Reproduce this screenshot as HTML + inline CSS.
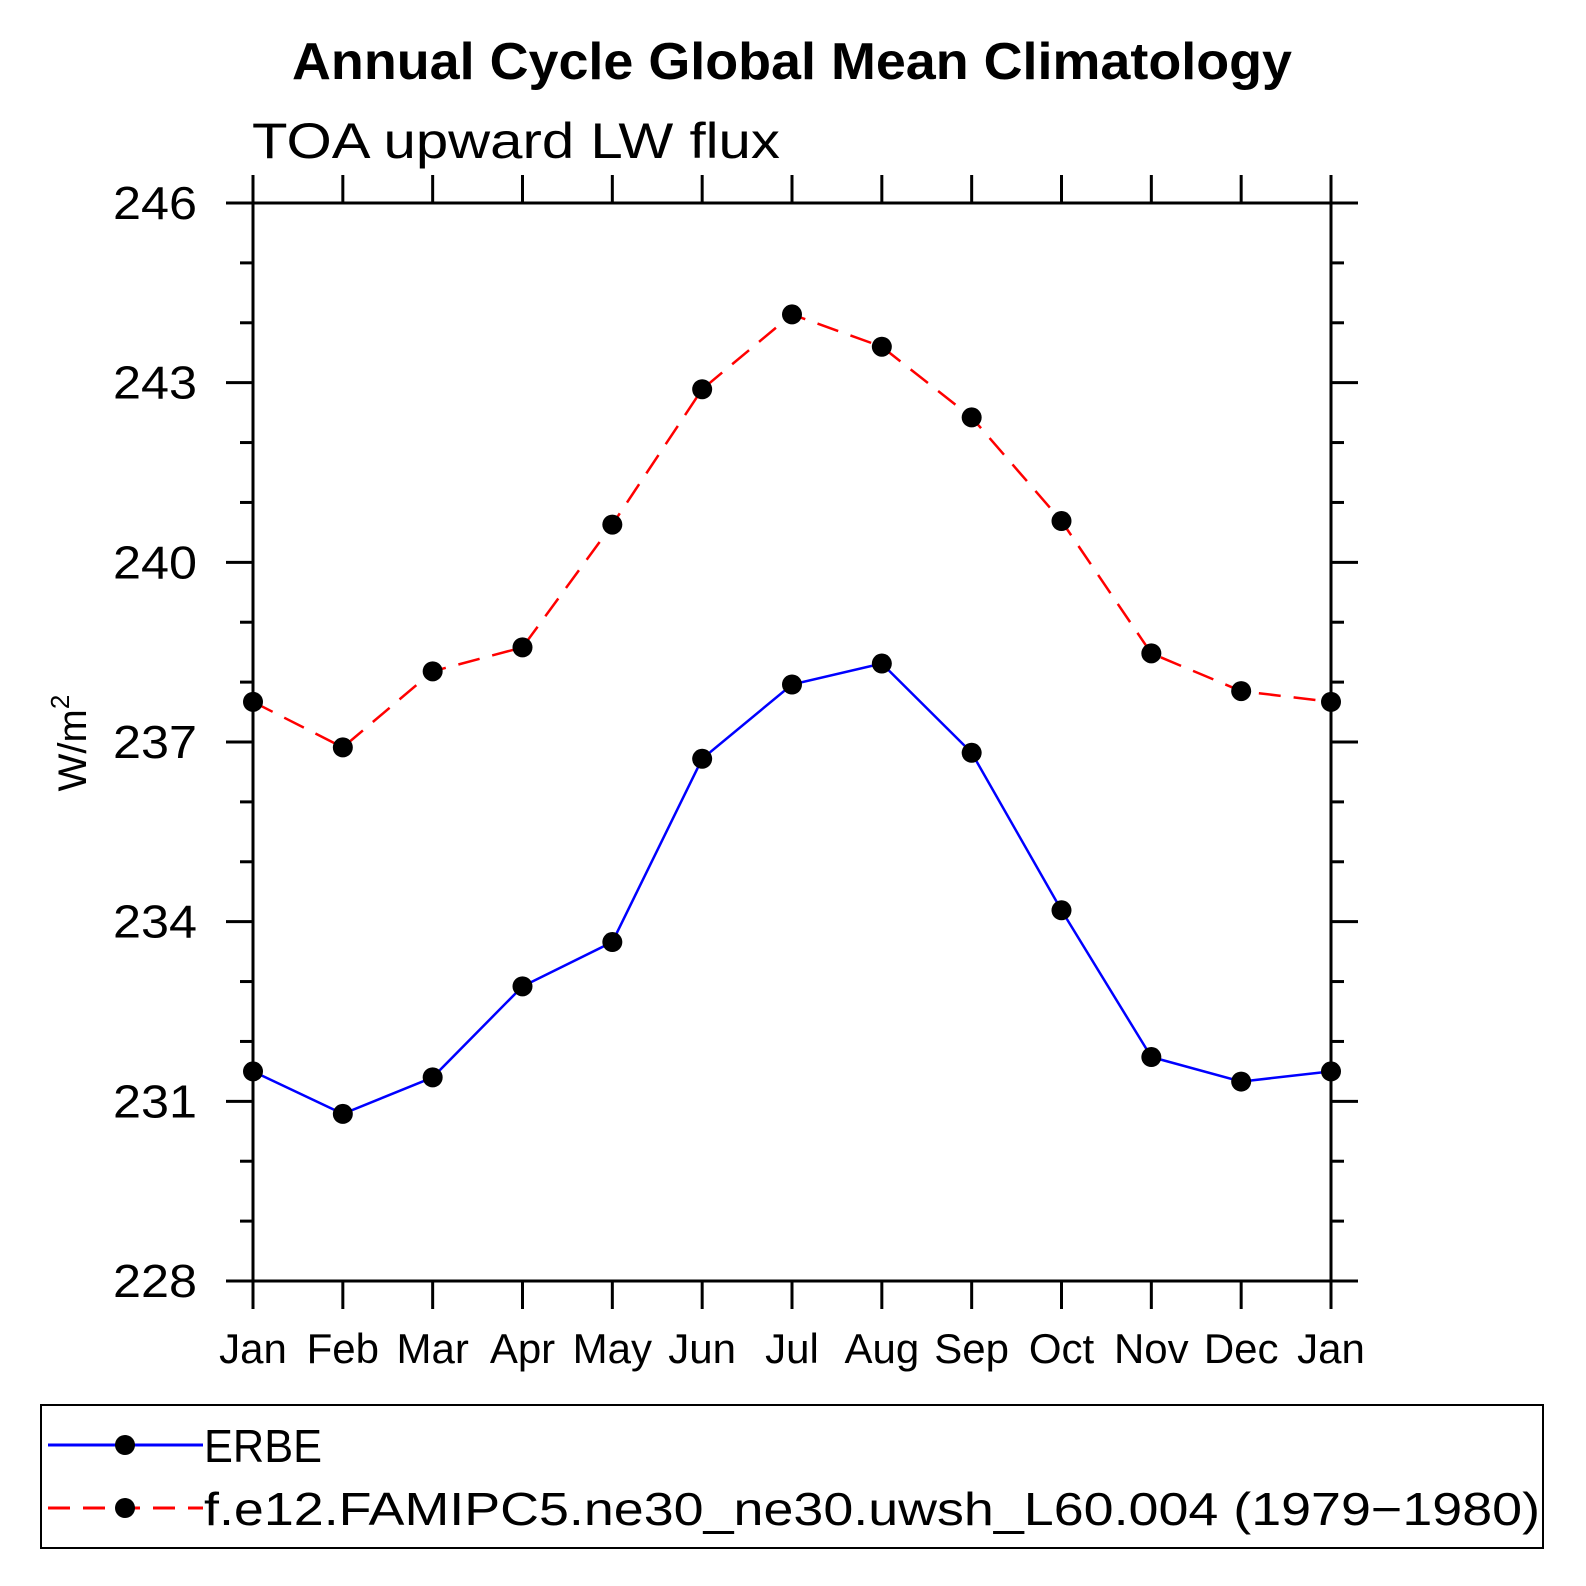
<!DOCTYPE html>
<html><head><meta charset="utf-8"><style>
html,body{margin:0;padding:0;background:#fff;}
svg{display:block;}
text{font-family:"Liberation Sans",sans-serif;fill:#000;}
</style></head><body>
<svg id="chart" width="1586" height="1586" viewBox="0 0 1586 1586" xmlns="http://www.w3.org/2000/svg">
<text x="792" y="79" text-anchor="middle" font-size="52" font-weight="bold" textLength="1000" lengthAdjust="spacingAndGlyphs">Annual Cycle Global Mean Climatology</text>
<text x="252" y="158" font-size="50" textLength="528" lengthAdjust="spacingAndGlyphs">TOA upward LW flux</text>
<text transform="translate(86,743) rotate(-90)" text-anchor="middle" font-size="40">W/m<tspan font-size="26" dy="-17">2</tspan></text>
<g id="axes"></g>
<g id="series"></g>
<g>
<rect x="41" y="1405" width="1502" height="143" fill="none" stroke="#000" stroke-width="2"/>
<g>
<line x1="48" y1="1445" x2="203" y2="1445" stroke="#0000ff" stroke-width="3"/>
<circle cx="125" cy="1445" r="10" fill="#000"/>
<text x="204" y="1462" font-size="46" textLength="118" lengthAdjust="spacingAndGlyphs">ERBE</text>
</g>
<g>
<line x1="48" y1="1508" x2="203" y2="1508" stroke="#ff0000" stroke-width="3" stroke-dasharray="22 13"/>
<circle cx="125" cy="1508" r="10" fill="#000"/>
<text x="204" y="1525" font-size="46" textLength="1336" lengthAdjust="spacingAndGlyphs">f.e12.FAMIPC5.ne30_ne30.uwsh_L60.004 (1979−1980)</text>
</g>
</g>
</svg>
<script>
const months = ["Jan","Feb","Mar","Apr","May","Jun","Jul","Aug","Sep","Oct","Nov","Dec","Jan"];
const erbe = [231.50,230.79,231.40,232.92,233.66,236.72,237.96,238.31,236.82,234.19,231.74,231.33,231.50];
const model = [237.67,236.91,238.18,238.58,240.63,242.89,244.14,243.60,242.42,240.69,238.48,237.85,237.67];
const yTicks = [228,231,234,237,240,243,246];
const yMin = 228, yMax = 246;

const L=253,R=1331,T=203,B=1281;
const NS="http://www.w3.org/2000/svg";
function xs(i){return L+(R-L)*i/(months.length-1);}
function ys(v){return B-(B-T)*(v-yMin)/(yMax-yMin);}
function mk(tag,attrs,parent){const e=document.createElementNS(NS,tag);for(const k in attrs)e.setAttribute(k,attrs[k]);parent.appendChild(e);return e;}
const axes=document.getElementById('axes');
const frame=mk('rect',{x:L,y:T,width:R-L,height:B-T,fill:'none',stroke:'#000','stroke-width':3},axes);


months.forEach((m,i)=>{
  const x=xs(i);
  const t1=mk('line',{x1:x,y1:B,x2:x,y2:B+28,stroke:'#000','stroke-width':3},axes);
  
  
  const t2=mk('line',{x1:x,y1:T,x2:x,y2:T-28,stroke:'#000','stroke-width':3},axes);
  
  
  const lb=mk('text',{x:x,y:1363,'text-anchor':'middle','font-size':42},axes);
  lb.textContent=m;
  
  
});
for(let v=yMin;v<=yMax;v++){
  const y=ys(v);
  const major=yTicks.indexOf(v)>=0;
  const len=major?27:13;
  const a=mk('line',{x1:L-len,y1:y,x2:L,y2:y,stroke:'#000','stroke-width':3},axes);
  
  
  const b=mk('line',{x1:R,y1:y,x2:R+len,y2:y,stroke:'#000','stroke-width':3},axes);
  
  
}
yTicks.forEach(v=>{
  const lb=mk('text',{x:113,y:ys(v)+16,'font-size':46,textLength:84,lengthAdjust:'spacingAndGlyphs'},axes);
  lb.textContent=String(v);
  
  
});
const ser=document.getElementById('series');
function draw(vals,color,dash,name){
  const pts=vals.map((v,i)=>xs(i)+','+ys(v)).join(' ');
  const pl=mk('polyline',{points:pts,fill:'none',stroke:color,'stroke-width':2.5},ser);
  if(dash)pl.setAttribute('stroke-dasharray',dash);
  
  
  vals.forEach((v,i)=>{
    const c=mk('circle',{cx:xs(i),cy:ys(v),r:10,fill:'#000'},ser);
    
    
  });
}
draw(model,'#ff0000','22 13','model');
draw(erbe,'#0000ff',null,'erbe');
</script>
</body></html>
